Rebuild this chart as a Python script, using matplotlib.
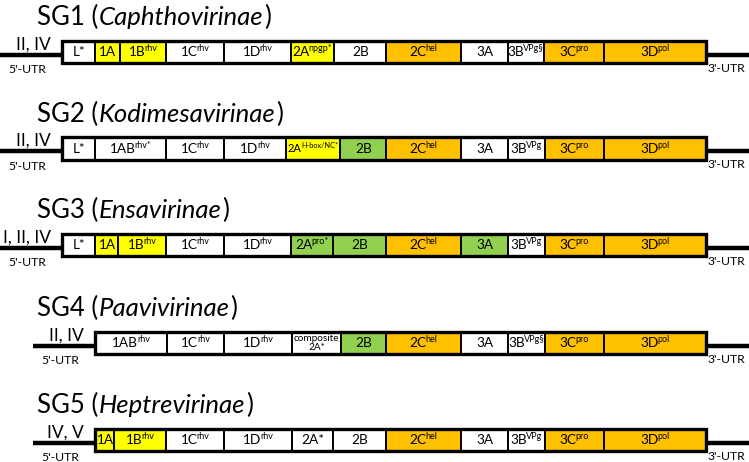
import matplotlib.pyplot as plt
from matplotlib.patches import Rectangle

plt.rcParams['font.family'] = ['Lato', 'DejaVu Sans']

# colour keys
colour_map = {"W": "#FFFFFF", "Y": "#FFFF00", "G": "#92D050", "O": "#FFC000"}

groups = ["SG1", "SG2", "SG3", "SG4", "SG5"]
subfamilies = ["Caphthovirinae", "Kodimesavirinae", "Ensavirinae", "Paavivirinae", "Heptrevirinae"]
ires_types = ["II, IV", "II, IV", "I, II, IV", "II, IV", "IV, V"]

# segment borders along the genome (diagram units)
sg1_edges = [62, 95, 120, 166, 224, 291, 334, 386, 461, 508, 544, 604, 706]
sg1_names = ["L*", "1A", "1B", "1C", "1D", "2A", "2B", "2C", "3A", "3B", "3C", "3D"]
sg1_sups = ["", "", "rhv", "rhv", "rhv", "npgp*", "", "hel", "", "VPg§", "pro", "pol"]
sg1_cols = ["W", "Y", "Y", "W", "W", "Y", "W", "O", "W", "W", "O", "O"]

sg2_edges = [62, 95, 166, 224, 286, 340, 386, 461, 508, 545, 604, 706]
sg2_names = ["L*", "1AB", "1C", "1D", "2A", "2B", "2C", "3A", "3B", "3C", "3D"]
sg2_sups = ["", "rhv*", "rhv", "rhv", "H-box/NC*", "", "hel", "", "VPg", "pro", "pol"]
sg2_cols = ["W", "W", "W", "W", "Y", "G", "O", "W", "W", "O", "O"]

sg3_edges = [62, 95, 118, 166, 224, 291, 333, 386, 461, 508, 545, 604, 706]
sg3_names = ["L*", "1A", "1B", "1C", "1D", "2A", "2B", "2C", "3A", "3B", "3C", "3D"]
sg3_sups = ["", "", "rhv", "rhv", "rhv", "pro*", "", "hel", "", "VPg", "pro", "pol"]
sg3_cols = ["W", "Y", "Y", "W", "W", "G", "G", "O", "G", "W", "O", "O"]

sg4_edges = [95, 167, 224, 292, 341, 386, 461, 508, 545, 604, 706]
sg4_names = ["1AB", "1C", "1D", "composite\n2A*", "2B", "2C", "3A", "3B", "3C", "3D"]
sg4_sups = ["rhv", "rhv", "rhv", "", "", "hel", "", "VPg§", "pro", "pol"]
sg4_cols = ["W", "W", "W", "W", "G", "O", "W", "W", "O", "O"]

sg5_edges = [95, 114, 166, 224, 292, 333, 386, 461, 508, 545, 604, 706]
sg5_names = ["1A", "1B", "1C", "1D", "2A*", "2B", "2C", "3A", "3B", "3C", "3D"]
sg5_sups = ["", "rhv", "rhv", "rhv", "", "", "hel", "", "VPg", "pro", "pol"]
sg5_cols = ["Y", "Y", "W", "W", "W", "W", "O", "W", "W", "O", "O"]

rows = [
    (sg1_edges, sg1_names, sg1_sups, sg1_cols),
    (sg2_edges, sg2_names, sg2_sups, sg2_cols),
    (sg3_edges, sg3_names, sg3_sups, sg3_cols),
    (sg4_edges, sg4_names, sg4_sups, sg4_cols),
    (sg5_edges, sg5_names, sg5_sups, sg5_cols),
]
row_tops = [40.5, 137, 233.5, 331.5, 428.5]
box_h = 22.5

fig = plt.figure(figsize=(7.49, 4.62), dpi=100)
ax = fig.add_axes([0, 0, 1, 1])
ax.set_xlim(0, 749)
ax.set_ylim(462, 0)
ax.axis('off')
renderer = fig.canvas.get_renderer()


def label(x, y, base, sup, size):
    # base text + superscript, centred on x
    t = ax.text(0, y, base, fontsize=size, ha='left', va='center', zorder=3)
    wb = t.get_window_extent(renderer).width - 1
    if sup:
        s = ax.text(0, y - 3.5, sup, fontsize=size * 0.66, ha='left', va='center', zorder=3)
        ws = s.get_window_extent(renderer).width
    else:
        ws = 0
    x0 = x - (wb + ws) / 2
    t.set_x(x0)
    if sup:
        s.set_x(x0 + wb)


for i, (edges, names, sups, cols) in enumerate(rows):
    top = row_tops[i]
    liney = top + 14
    start, end = edges[0], edges[-1]
    # UTR lines
    ax.plot([start - 62, start], [liney, liney], color='black', lw=3.2, solid_capstyle='butt', zorder=1)
    ax.plot([end, 749], [liney, liney], color='black', lw=3.2, solid_capstyle='butt', zorder=1)
    for j in range(len(names)):
        x0, x1 = edges[j], edges[j + 1]
        ax.add_patch(Rectangle((x0, top), x1 - x0, box_h, facecolor=colour_map[cols[j]],
                               edgecolor='black', lw=1.4, zorder=2))
        if "\n" in names[j]:
            ax.text((x0 + x1) / 2, top + box_h / 2, names[j], fontsize=7.2, ha='center',
                    va='center', linespacing=0.95, zorder=3)
        else:
            size = 9.8
            if len(sups[j]) > 6:
                size = 8.0
            label((x0 + x1) / 2, top + box_h / 2 + 0.5, names[j], sups[j], size)
    ax.add_patch(Rectangle((start, top), end - start, box_h, facecolor='none',
                           edgecolor='black', lw=2.4, zorder=4))
    # title
    ty = top - 23
    ax.text(37, ty, groups[i] + " (", fontsize=18.5, ha='left', va='center')
    w1 = ax.texts[-1].get_window_extent(renderer).width
    ax.text(37 + w1, ty, subfamilies[i], fontsize=18.5, style='italic', ha='left', va='center')
    w2 = ax.texts[-1].get_window_extent(renderer).width
    ax.text(37 + w1 + w2 + 1, ty, ")", fontsize=18.5, ha='left', va='center')
    # IRES type and UTR labels
    ax.text(start - 11, liney - 10, ires_types[i], fontsize=12.5, ha='right', va='center')
    ax.text(start - 35, liney + 15, "5'-UTR", fontsize=8.8, ha='center', va='center')
    ax.text(708, liney + 14, "3'-UTR", fontsize=8.8, ha='left', va='center')

fig.savefig("out.png", dpi=100)
